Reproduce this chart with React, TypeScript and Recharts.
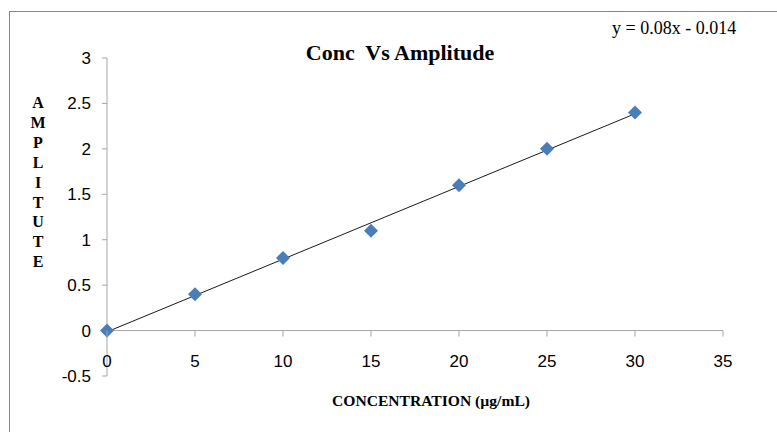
import { ScatterChart, Scatter, XAxis, YAxis, ReferenceLine } from 'recharts';

const concentration = [0, 5, 10, 15, 20, 25, 30];
const amplitude = [0, 0.4, 0.8, 1.1, 1.6, 2.0, 2.4];
const xTicks = [0, 5, 10, 15, 20, 25, 30, 35];
const yTicks = [-0.5, 0, 0.5, 1, 1.5, 2, 2.5, 3];
const slope = 0.08;
const intercept = -0.014;
const trendRange = [0, 30];
const yAxisLetters = ['A', 'M', 'P', 'L', 'I', 'T', 'U', 'T', 'E'];

const points = concentration.map((c, i) => ({ conc: c, amp: amplitude[i] }));

const W = 777;
const H = 432;
const xAxisH = 30;
const margin = { top: 58, right: 54, bottom: 56 - xAxisH, left: 47 };
const yMin = -0.5;
const yMax = 3;
const plotH = H - margin.top - margin.bottom - xAxisH;
const plotBottom = margin.top + plotH;
// distance from plot bottom up to the y = 0 line, where the x axis crosses
const zeroShift = (plotH * (0 - yMin)) / (yMax - yMin);

const axisGray = '#a6a6a6';
const sans = '"Liberation Sans", Arial, sans-serif';
const serif = '"Liberation Serif", "Times New Roman", serif';

const Diamond = (props: any) => {
  const { cx, cy } = props;
  const r = 7;
  return (
    <path
      d={`M${cx},${cy - r}L${cx + r},${cy}L${cx},${cy + r}L${cx - r},${cy}Z`}
      fill="#4a7ebb"
    />
  );
};

const XTick = (props: any) => {
  const { x, payload } = props;
  const axisY = plotBottom - zeroShift;
  return (
    <g>
      <line x1={x} y1={axisY} x2={x} y2={axisY + 6} stroke={axisGray} />
      <text x={x} y={axisY + 31} textAnchor="middle" dominantBaseline="central" fill="#000" fontSize={17} fontFamily={sans}>
        {payload.value}
      </text>
    </g>
  );
};

export default function App() {
  return (
    <div style={{ position: 'absolute', left: 0, top: 0, width: W, height: H, overflow: 'hidden', background: '#fff' }}>
      <div style={{ position: 'absolute', left: 9, top: 11, width: 900, height: 600, border: '1px solid #868686' }} />
      <div style={{ position: 'absolute', left: 0, top: 0 }}>
        <ScatterChart width={W} height={H} margin={margin}>
          <XAxis
            type="number"
            dataKey="conc"
            domain={[0, 35]}
            ticks={xTicks}
            axisLine={false}
            tickLine={false}
            height={xAxisH}
            tick={(p: any) => <XTick {...p} />}
            interval={0}
          />
          <YAxis
            type="number"
            dataKey="amp"
            domain={[yMin, yMax]}
            ticks={yTicks}
            width={60}
            axisLine={{ stroke: axisGray }}
            tickLine={{ stroke: axisGray }}
            tickSize={5}
            tickMargin={11}
            tick={{ fill: '#000', fontSize: 17, fontFamily: sans }}
            interval={0}
          />
          <ReferenceLine y={0} stroke={axisGray} />
          <ReferenceLine
            segment={[
              { x: trendRange[0], y: slope * trendRange[0] + intercept },
              { x: trendRange[1], y: slope * trendRange[1] + intercept },
            ]}
            stroke="#1a1a1a"
            strokeWidth={1}
          />
          <Scatter data={points} shape={<Diamond />} isAnimationActive={false} />
        </ScatterChart>
      </div>
      <div style={{ position: 'absolute', left: 250, width: 300, top: 40, textAlign: 'center', fontFamily: serif, fontWeight: 'bold', fontSize: 22, lineHeight: '26px', whiteSpace: 'pre' }}>
        {'Conc  Vs Amplitude'}
      </div>
      <div style={{ position: 'absolute', left: 612, top: 17, fontFamily: serif, fontSize: 18, lineHeight: '22px', whiteSpace: 'nowrap' }}>
        y = 0.08x - 0.014
      </div>
      <div style={{ position: 'absolute', left: 27, width: 22, top: 93, textAlign: 'center', fontFamily: serif, fontWeight: 'bold', fontSize: 16, lineHeight: '19.9px' }}>
        {yAxisLetters.map((l, i) => (
          <div key={i}>{l}</div>
        ))}
      </div>
      <div style={{ position: 'absolute', left: 281, width: 300, top: 391, textAlign: 'center', fontFamily: serif, fontWeight: 'bold', fontSize: 15.6, lineHeight: '20px', whiteSpace: 'nowrap' }}>
        CONCENTRATION (µg/mL)
      </div>
    </div>
  );
}
